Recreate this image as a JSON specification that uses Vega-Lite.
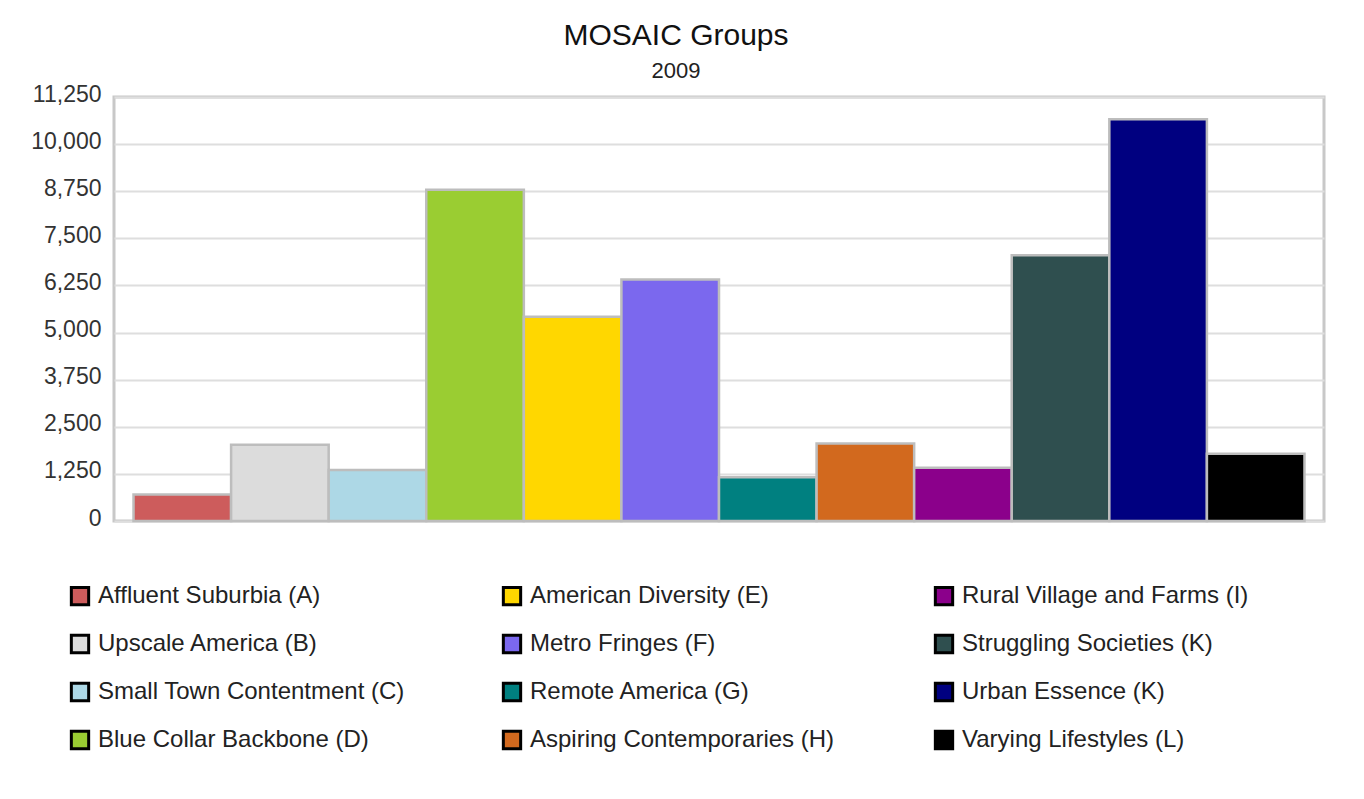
{
  "$schema": "https://vega.github.io/schema/vega-lite/v6.json",
  "autosize": "none",
  "width": 1210,
  "height": 424,
  "padding": {"left": 114, "top": 97, "right": 40, "bottom": 278},
  "background": "white",
  "config": {
    "font": "Liberation Sans",
    "view": {"stroke": "#c8c8c8", "strokeWidth": 3, "fill": "white"}
  },
  "title": {
    "text": "MOSAIC Groups",
    "subtitle": "2009",
    "frame": "group",
    "anchor": "middle",
    "dx": -43,
    "font": "Liberation Sans",
    "subtitleFont": "Liberation Sans",
    "fontSize": 30,
    "subtitleFontSize": 22,
    "fontWeight": "normal",
    "color": "#111111",
    "subtitleColor": "#222222",
    "offset": 1,
    "subtitlePadding": 10
  },
  "data": {
    "values": [
      {"group": "Affluent Suburbia (A)", "value": 700},
      {"group": "Upscale America (B)", "value": 2025},
      {"group": "Small Town Contentment (C)", "value": 1350},
      {"group": "Blue Collar Backbone (D)", "value": 8790},
      {"group": "American Diversity (E)", "value": 5420},
      {"group": "Metro Fringes (F)", "value": 6410},
      {"group": "Remote America (G)", "value": 1160},
      {"group": "Aspiring Contemporaries (H)", "value": 2055},
      {"group": "Rural Village and Farms (I)", "value": 1415},
      {"group": "Struggling Societies (K)", "value": 7050},
      {"group": "Urban Essence (K)", "value": 10660},
      {"group": "Varying Lifestyles (L)", "value": 1785}
    ]
  },
  "mark": {"type": "bar", "stroke": "#bdbdbd", "strokeWidth": 2.5},
  "encoding": {
    "x": {
      "field": "group",
      "type": "nominal",
      "sort": ["Affluent Suburbia (A)", "Upscale America (B)", "Small Town Contentment (C)", "Blue Collar Backbone (D)", "American Diversity (E)", "Metro Fringes (F)", "Remote America (G)", "Aspiring Contemporaries (H)", "Rural Village and Farms (I)", "Struggling Societies (K)", "Urban Essence (K)", "Varying Lifestyles (L)"],
      "scale": {"paddingInner": 0, "paddingOuter": 0.2},
      "axis": null
    },
    "y": {
      "field": "value",
      "type": "quantitative",
      "scale": {"domain": [0, 11250], "nice": false},
      "axis": {
        "title": null,
        "values": [0, 1250, 2500, 3750, 5000, 6250, 7500, 8750, 10000, 11250],
        "format": ",.0f",
        "domain": false,
        "ticks": false,
        "labelPadding": 13,
        "labelFontSize": 23,
        "labelColor": "#333333",
        "labelOffset": -3,
        "gridColor": "#dedede",
        "gridWidth": 2
      }
    },
    "color": {
      "field": "group",
      "type": "nominal",
      "scale": {
        "domain": ["Affluent Suburbia (A)", "Upscale America (B)", "Small Town Contentment (C)", "Blue Collar Backbone (D)", "American Diversity (E)", "Metro Fringes (F)", "Remote America (G)", "Aspiring Contemporaries (H)", "Rural Village and Farms (I)", "Struggling Societies (K)", "Urban Essence (K)", "Varying Lifestyles (L)"],
        "range": ["#cd5c5c", "#dcdcdc", "#add8e6", "#9acd32", "#ffd700", "#7b68ee", "#008080", "#d2691e", "#8b008b", "#2f4f4f", "#000080", "#000000"]
      },
      "legend": {
        "title": null,
        "orient": "none",
        "legendX": -46,
        "legendY": 487,
        "columns": 3,
        "gridAlign": "all",
        "columnPadding": 92,
        "rowPadding": 18,
        "padding": 0,
        "symbolType": "square",
        "symbolSize": 300,
        "symbolStrokeColor": "black",
        "symbolStrokeWidth": 3,
        "labelFontSize": 24,
        "labelColor": "#222222",
        "labelOffset": 6,
        "labelLimit": 500,
        "encode": {"symbols": {"update": {"stroke": {"value": "black"}, "strokeWidth": {"value": 3}}}}
      }
    }
  }
}
